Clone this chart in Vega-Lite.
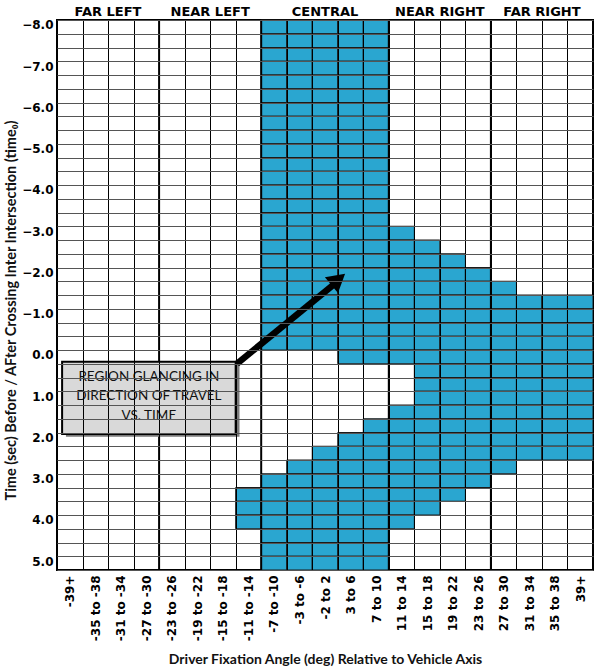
{
  "$schema": "https://vega.github.io/schema/vega-lite/v6.json",
  "width": 536,
  "height": 550,
  "autosize": {"type": "none"},
  "padding": {"left": 57, "top": 20, "right": 8, "bottom": 102},
  "background": "white",
  "config": {"view": {"stroke": "#000", "strokeWidth": 2}},
  "datasets": {
    "cells": [
      {"a":"-11 to -14","t":3.333},{"a":"-11 to -14","t":3.667},{"a":"-11 to -14","t":4},

      {"a":"-7 to -10","t":-8},{"a":"-7 to -10","t":-7.667},{"a":"-7 to -10","t":-7.333},{"a":"-7 to -10","t":-7},{"a":"-7 to -10","t":-6.667},{"a":"-7 to -10","t":-6.333},{"a":"-7 to -10","t":-6},{"a":"-7 to -10","t":-5.667},{"a":"-7 to -10","t":-5.333},{"a":"-7 to -10","t":-5},{"a":"-7 to -10","t":-4.667},{"a":"-7 to -10","t":-4.333},{"a":"-7 to -10","t":-4},{"a":"-7 to -10","t":-3.667},{"a":"-7 to -10","t":-3.333},{"a":"-7 to -10","t":-3},{"a":"-7 to -10","t":-2.667},{"a":"-7 to -10","t":-2.333},{"a":"-7 to -10","t":-2},{"a":"-7 to -10","t":-1.667},{"a":"-7 to -10","t":-1.333},{"a":"-7 to -10","t":-1},{"a":"-7 to -10","t":-0.667},{"a":"-7 to -10","t":-0.333},
      {"a":"-7 to -10","t":3},{"a":"-7 to -10","t":3.333},{"a":"-7 to -10","t":3.667},{"a":"-7 to -10","t":4},{"a":"-7 to -10","t":4.333},{"a":"-7 to -10","t":4.667},{"a":"-7 to -10","t":5},

      {"a":"-3 to -6","t":-8},{"a":"-3 to -6","t":-7.667},{"a":"-3 to -6","t":-7.333},{"a":"-3 to -6","t":-7},{"a":"-3 to -6","t":-6.667},{"a":"-3 to -6","t":-6.333},{"a":"-3 to -6","t":-6},{"a":"-3 to -6","t":-5.667},{"a":"-3 to -6","t":-5.333},{"a":"-3 to -6","t":-5},{"a":"-3 to -6","t":-4.667},{"a":"-3 to -6","t":-4.333},{"a":"-3 to -6","t":-4},{"a":"-3 to -6","t":-3.667},{"a":"-3 to -6","t":-3.333},{"a":"-3 to -6","t":-3},{"a":"-3 to -6","t":-2.667},{"a":"-3 to -6","t":-2.333},{"a":"-3 to -6","t":-2},{"a":"-3 to -6","t":-1.667},{"a":"-3 to -6","t":-1.333},{"a":"-3 to -6","t":-1},{"a":"-3 to -6","t":-0.667},{"a":"-3 to -6","t":-0.333},
      {"a":"-3 to -6","t":2.667},{"a":"-3 to -6","t":3},{"a":"-3 to -6","t":3.333},{"a":"-3 to -6","t":3.667},{"a":"-3 to -6","t":4},{"a":"-3 to -6","t":4.333},{"a":"-3 to -6","t":4.667},{"a":"-3 to -6","t":5},

      {"a":"-2 to 2","t":-8},{"a":"-2 to 2","t":-7.667},{"a":"-2 to 2","t":-7.333},{"a":"-2 to 2","t":-7},{"a":"-2 to 2","t":-6.667},{"a":"-2 to 2","t":-6.333},{"a":"-2 to 2","t":-6},{"a":"-2 to 2","t":-5.667},{"a":"-2 to 2","t":-5.333},{"a":"-2 to 2","t":-5},{"a":"-2 to 2","t":-4.667},{"a":"-2 to 2","t":-4.333},{"a":"-2 to 2","t":-4},{"a":"-2 to 2","t":-3.667},{"a":"-2 to 2","t":-3.333},{"a":"-2 to 2","t":-3},{"a":"-2 to 2","t":-2.667},{"a":"-2 to 2","t":-2.333},{"a":"-2 to 2","t":-2},{"a":"-2 to 2","t":-1.667},{"a":"-2 to 2","t":-1.333},{"a":"-2 to 2","t":-1},{"a":"-2 to 2","t":-0.667},{"a":"-2 to 2","t":-0.333},
      {"a":"-2 to 2","t":2.333},{"a":"-2 to 2","t":2.667},{"a":"-2 to 2","t":3},{"a":"-2 to 2","t":3.333},{"a":"-2 to 2","t":3.667},{"a":"-2 to 2","t":4},{"a":"-2 to 2","t":4.333},{"a":"-2 to 2","t":4.667},{"a":"-2 to 2","t":5},

      {"a":"3 to 6","t":-8},{"a":"3 to 6","t":-7.667},{"a":"3 to 6","t":-7.333},{"a":"3 to 6","t":-7},{"a":"3 to 6","t":-6.667},{"a":"3 to 6","t":-6.333},{"a":"3 to 6","t":-6},{"a":"3 to 6","t":-5.667},{"a":"3 to 6","t":-5.333},{"a":"3 to 6","t":-5},{"a":"3 to 6","t":-4.667},{"a":"3 to 6","t":-4.333},{"a":"3 to 6","t":-4},{"a":"3 to 6","t":-3.667},{"a":"3 to 6","t":-3.333},{"a":"3 to 6","t":-3},{"a":"3 to 6","t":-2.667},{"a":"3 to 6","t":-2.333},{"a":"3 to 6","t":-2},{"a":"3 to 6","t":-1.667},{"a":"3 to 6","t":-1.333},{"a":"3 to 6","t":-1},{"a":"3 to 6","t":-0.667},{"a":"3 to 6","t":-0.333},{"a":"3 to 6","t":0},
      {"a":"3 to 6","t":2},{"a":"3 to 6","t":2.333},{"a":"3 to 6","t":2.667},{"a":"3 to 6","t":3},{"a":"3 to 6","t":3.333},{"a":"3 to 6","t":3.667},{"a":"3 to 6","t":4},{"a":"3 to 6","t":4.333},{"a":"3 to 6","t":4.667},{"a":"3 to 6","t":5},

      {"a":"7 to 10","t":-8},{"a":"7 to 10","t":-7.667},{"a":"7 to 10","t":-7.333},{"a":"7 to 10","t":-7},{"a":"7 to 10","t":-6.667},{"a":"7 to 10","t":-6.333},{"a":"7 to 10","t":-6},{"a":"7 to 10","t":-5.667},{"a":"7 to 10","t":-5.333},{"a":"7 to 10","t":-5},{"a":"7 to 10","t":-4.667},{"a":"7 to 10","t":-4.333},{"a":"7 to 10","t":-4},{"a":"7 to 10","t":-3.667},{"a":"7 to 10","t":-3.333},{"a":"7 to 10","t":-3},{"a":"7 to 10","t":-2.667},{"a":"7 to 10","t":-2.333},{"a":"7 to 10","t":-2},{"a":"7 to 10","t":-1.667},{"a":"7 to 10","t":-1.333},{"a":"7 to 10","t":-1},{"a":"7 to 10","t":-0.667},{"a":"7 to 10","t":-0.333},{"a":"7 to 10","t":0},
      {"a":"7 to 10","t":1.667},{"a":"7 to 10","t":2},{"a":"7 to 10","t":2.333},{"a":"7 to 10","t":2.667},{"a":"7 to 10","t":3},{"a":"7 to 10","t":3.333},{"a":"7 to 10","t":3.667},{"a":"7 to 10","t":4},{"a":"7 to 10","t":4.333},{"a":"7 to 10","t":4.667},{"a":"7 to 10","t":5},

      {"a":"11 to 14","t":-3},{"a":"11 to 14","t":-2.667},{"a":"11 to 14","t":-2.333},{"a":"11 to 14","t":-2},{"a":"11 to 14","t":-1.667},{"a":"11 to 14","t":-1.333},{"a":"11 to 14","t":-1},{"a":"11 to 14","t":-0.667},{"a":"11 to 14","t":-0.333},{"a":"11 to 14","t":0},
      {"a":"11 to 14","t":1.333},{"a":"11 to 14","t":1.667},{"a":"11 to 14","t":2},{"a":"11 to 14","t":2.333},{"a":"11 to 14","t":2.667},{"a":"11 to 14","t":3},{"a":"11 to 14","t":3.333},{"a":"11 to 14","t":3.667},{"a":"11 to 14","t":4},

      {"a":"15 to 18","t":-2.667},{"a":"15 to 18","t":-2.333},{"a":"15 to 18","t":-2},{"a":"15 to 18","t":-1.667},{"a":"15 to 18","t":-1.333},{"a":"15 to 18","t":-1},{"a":"15 to 18","t":-0.667},{"a":"15 to 18","t":-0.333},{"a":"15 to 18","t":0},{"a":"15 to 18","t":0.333},{"a":"15 to 18","t":0.667},{"a":"15 to 18","t":1},{"a":"15 to 18","t":1.333},{"a":"15 to 18","t":1.667},{"a":"15 to 18","t":2},{"a":"15 to 18","t":2.333},{"a":"15 to 18","t":2.667},{"a":"15 to 18","t":3},{"a":"15 to 18","t":3.333},{"a":"15 to 18","t":3.667},

      {"a":"19 to 22","t":-2.333},{"a":"19 to 22","t":-2},{"a":"19 to 22","t":-1.667},{"a":"19 to 22","t":-1.333},{"a":"19 to 22","t":-1},{"a":"19 to 22","t":-0.667},{"a":"19 to 22","t":-0.333},{"a":"19 to 22","t":0},{"a":"19 to 22","t":0.333},{"a":"19 to 22","t":0.667},{"a":"19 to 22","t":1},{"a":"19 to 22","t":1.333},{"a":"19 to 22","t":1.667},{"a":"19 to 22","t":2},{"a":"19 to 22","t":2.333},{"a":"19 to 22","t":2.667},{"a":"19 to 22","t":3},{"a":"19 to 22","t":3.333},

      {"a":"23 to 26","t":-2},{"a":"23 to 26","t":-1.667},{"a":"23 to 26","t":-1.333},{"a":"23 to 26","t":-1},{"a":"23 to 26","t":-0.667},{"a":"23 to 26","t":-0.333},{"a":"23 to 26","t":0},{"a":"23 to 26","t":0.333},{"a":"23 to 26","t":0.667},{"a":"23 to 26","t":1},{"a":"23 to 26","t":1.333},{"a":"23 to 26","t":1.667},{"a":"23 to 26","t":2},{"a":"23 to 26","t":2.333},{"a":"23 to 26","t":2.667},{"a":"23 to 26","t":3},

      {"a":"27 to 30","t":-1.667},{"a":"27 to 30","t":-1.333},{"a":"27 to 30","t":-1},{"a":"27 to 30","t":-0.667},{"a":"27 to 30","t":-0.333},{"a":"27 to 30","t":0},{"a":"27 to 30","t":0.333},{"a":"27 to 30","t":0.667},{"a":"27 to 30","t":1},{"a":"27 to 30","t":1.333},{"a":"27 to 30","t":1.667},{"a":"27 to 30","t":2},{"a":"27 to 30","t":2.333},{"a":"27 to 30","t":2.667},

      {"a":"31 to 34","t":-1.333},{"a":"31 to 34","t":-1},{"a":"31 to 34","t":-0.667},{"a":"31 to 34","t":-0.333},{"a":"31 to 34","t":0},{"a":"31 to 34","t":0.333},{"a":"31 to 34","t":0.667},{"a":"31 to 34","t":1},{"a":"31 to 34","t":1.333},{"a":"31 to 34","t":1.667},{"a":"31 to 34","t":2},{"a":"31 to 34","t":2.333},

      {"a":"35 to 38","t":-1.333},{"a":"35 to 38","t":-1},{"a":"35 to 38","t":-0.667},{"a":"35 to 38","t":-0.333},{"a":"35 to 38","t":0},{"a":"35 to 38","t":0.333},{"a":"35 to 38","t":0.667},{"a":"35 to 38","t":1},{"a":"35 to 38","t":1.333},{"a":"35 to 38","t":1.667},{"a":"35 to 38","t":2},{"a":"35 to 38","t":2.333},

      {"a":"39+","t":-1.333},{"a":"39+","t":-1},{"a":"39+","t":-0.667},{"a":"39+","t":-0.333},{"a":"39+","t":0},{"a":"39+","t":0.333},{"a":"39+","t":0.667},{"a":"39+","t":1},{"a":"39+","t":1.333},{"a":"39+","t":1.667},{"a":"39+","t":2},{"a":"39+","t":2.333}
    ]
  },
  "layer": [
    {
      "data": {"name": "cells"},
      "mark": {"type": "rect", "fill": "#2aa6d0", "stroke": "#1a1a1a", "strokeWidth": 1},
      "encoding": {
        "x": {
          "field": "a", "type": "ordinal",
          "scale": {"type": "band", "paddingInner": 0, "paddingOuter": 0,
            "domain": ["-39+","-35 to -38","-31 to -34","-27 to -30","-23 to -26","-19 to -22","-15 to -18","-11 to -14","-7 to -10","-3 to -6","-2 to 2","3 to 6","7 to 10","11 to 14","15 to 18","19 to 22","23 to 26","27 to 30","31 to 34","35 to 38","39+"]},
          "axis": {
            "title": "Driver Fixation Angle (deg) Relative to Vehicle Axis",
            "tickBand": "extent", "grid": true, "gridColor": "#000", "gridWidth": 1, "gridOpacity": 1,
            "ticks": false, "domain": false, "labelAngle": -90, "labelOverlap": false,
            "labelFont": "DejaVu Sans", "labelFontWeight": "bold", "labelFontSize": 12, "labelColor": "#000", "labelPadding": 5,
            "titleFont": "Lato", "titleFontWeight": "bold", "titleFontSize": 14, "titleColor": "#111", "titlePadding": 12
          }
        },
        "y": {
          "field": "t", "type": "ordinal",
          "scale": {"type": "band", "paddingInner": 0, "paddingOuter": 0,
            "domain": [-8,-7.667,-7.333,-7,-6.667,-6.333,-6,-5.667,-5.333,-5,-4.667,-4.333,-4,-3.667,-3.333,-3,-2.667,-2.333,-2,-1.667,-1.333,-1,-0.667,-0.333,0,0.333,0.667,1,1.333,1.667,2,2.333,2.667,3,3.333,3.667,4,4.333,4.667,5]},
          "axis": {
            "title": "Time (sec) Before / AFter Crossing Inter Intersection (time₀)",
            "tickBand": "extent", "grid": true, "gridColor": "#555", "gridWidth": 1, "gridOpacity": 1,
            "ticks": false, "domain": false, "labelOverlap": false,
            "labelExpr": "datum.value % 1 == 0 ? format(datum.value, '.1f') : ''",
            "labelFont": "DejaVu Sans", "labelFontWeight": "bold", "labelFontSize": 12, "labelColor": "#000", "labelPadding": 4, "labelOffset": -2,
            "titleFont": "Lato", "titleFontWeight": "bold", "titleFontSize": 14.5, "titleColor": "#111", "titlePadding": 3, "titleY": 290
          }
        }
      }
    },
    {
      "data": {"values": [{"a": "-23 to -26"}, {"a": "-7 to -10"}, {"a": "11 to 14"}, {"a": "27 to 30"}]},
      "mark": {"type": "rule", "color": "#000", "strokeWidth": 2},
      "encoding": {"x": {"field": "a", "type": "ordinal", "bandPosition": 0}}
    },
    {
      "data": {"values": [{"g": "FAR LEFT", "a": "-31 to -34"}, {"g": "NEAR LEFT", "a": "-15 to -18"}, {"g": "NEAR RIGHT", "a": "19 to 22"}, {"g": "FAR RIGHT", "a": "35 to 38"}]},
      "mark": {"type": "text", "font": "DejaVu Sans", "fontWeight": "bold", "fontSize": 13, "baseline": "alphabetic", "align": "center", "dy": -4, "color": "#000"},
      "encoding": {
        "x": {"field": "a", "type": "ordinal", "bandPosition": 0},
        "y": {"datum": -8, "type": "ordinal", "bandPosition": 0},
        "text": {"field": "g"}
      }
    },
    {
      "data": {"values": [{"g": "CENTRAL", "a": "-2 to 2"}]},
      "mark": {"type": "text", "font": "DejaVu Sans", "fontWeight": "bold", "fontSize": 13, "baseline": "alphabetic", "align": "center", "dy": -4, "color": "#000"},
      "encoding": {
        "x": {"field": "a", "type": "ordinal", "bandPosition": 0.5},
        "y": {"datum": -8, "type": "ordinal", "bandPosition": 0},
        "text": {"field": "g"}
      }
    },
    {
      "data": {"values": [{"part": "shadow"}]},
      "mark": {"type": "rect", "fill": "#7a7a7a"},
      "encoding": {
        "x": {"datum": "-39+", "type": "ordinal", "bandPosition": 0.35},
        "x2": {"datum": "-11 to -14", "bandPosition": 0.15},
        "y": {"datum": 0, "type": "ordinal", "bandPosition": 1},
        "y2": {"datum": 2, "bandPosition": 0.3}
      }
    },
    {
      "data": {"values": [{"part": "box"}]},
      "mark": {"type": "rect", "fill": "#d9d9d9", "stroke": "#000", "strokeWidth": 2},
      "encoding": {
        "x": {"datum": "-39+", "type": "ordinal", "bandPosition": 0.2},
        "x2": {"datum": "-11 to -14", "bandPosition": 0},
        "y": {"datum": 0, "type": "ordinal", "bandPosition": 0.85},
        "y2": {"datum": 2, "bandPosition": 0.1}
      }
    },
    {
      "data": {"values": [{"note": "REGION GLANCING IN\nDIRECTION OF TRAVEL\nVS. TIME"}]},
      "mark": {"type": "text", "font": "Lato", "fontSize": 13.5, "lineBreak": "\n", "lineHeight": 19.5, "align": "center", "baseline": "middle", "color": "#111"},
      "encoding": {
        "x": {"datum": "-27 to -30", "type": "ordinal", "bandPosition": 0.6},
        "y": {"datum": 0.333, "type": "ordinal", "bandPosition": 0.95},
        "text": {"field": "note"}
      }
    },
    {
      "data": {"values": [{"part": "arrow"}]},
      "mark": {"type": "rule", "color": "#000", "strokeWidth": 6.5, "strokeCap": "butt"},
      "encoding": {
        "x": {"datum": "-11 to -14", "type": "ordinal", "bandPosition": 0.05},
        "x2": {"datum": "3 to 6", "bandPosition": 0},
        "y": {"datum": 0.333, "type": "ordinal", "bandPosition": 0},
        "y2": {"datum": -1.667, "bandPosition": 0}
      }
    },
    {
      "data": {"values": [{"part": "arrowhead"}]},
      "mark": {"type": "point", "shape": "triangle-up", "filled": true, "color": "#000", "opacity": 1, "size": 420, "angle": 50.5},
      "encoding": {
        "x": {"datum": "3 to 6", "type": "ordinal", "bandPosition": 0.02},
        "y": {"datum": -2, "type": "ordinal", "bandPosition": 0.87}
      }
    }
  ]
}
